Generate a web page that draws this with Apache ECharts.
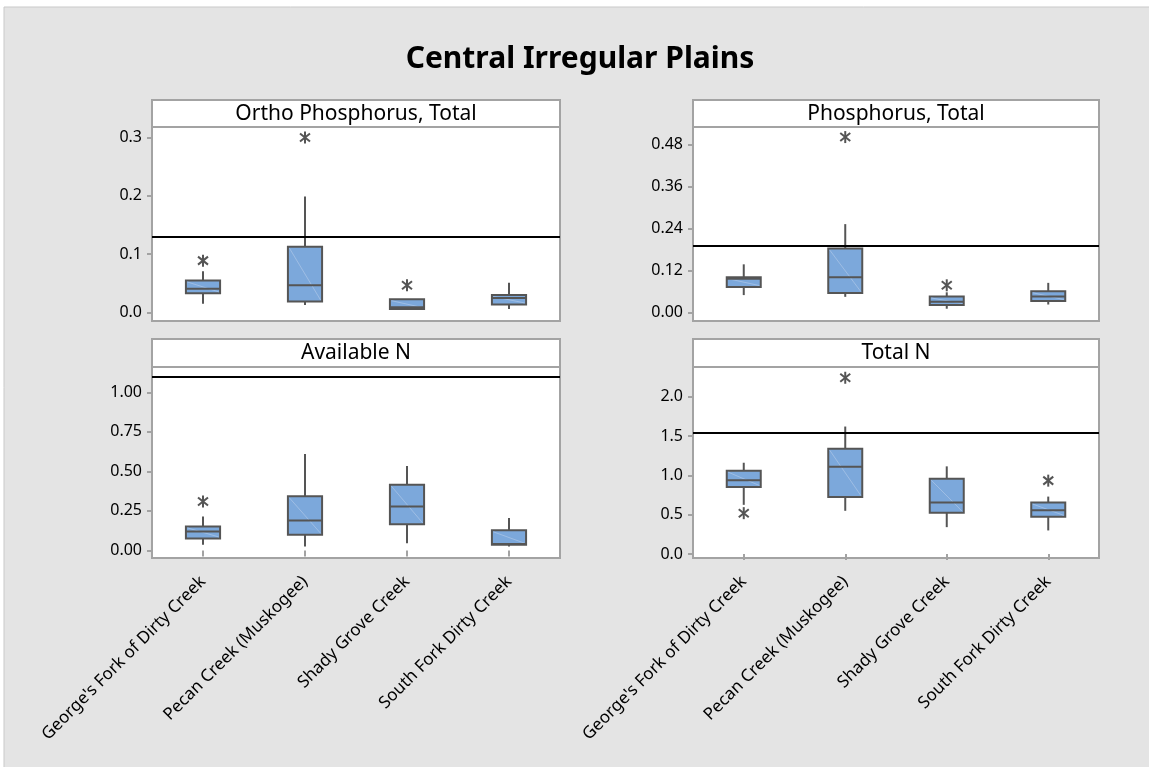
<!DOCTYPE html>
<html>
<head>
<meta charset="utf-8">
<script src="https://cdn.jsdelivr.net/npm/echarts@6/dist/echarts.min.js"></script>
<style>
  html, body { margin: 0; padding: 0; background: #ffffff; }
  #chart { width: 1149px; height: 767px; }
</style>
</head>
<body>
<div id="chart"></div>
<script>
// ---------- data ----------
const chartTitle = 'Central Irregular Plains';
const categories = ["George's Fork of Dirty Creek", 'Pecan Creek (Muskogee)', 'Shady Grove Creek', 'South Fork Dirty Creek'];
const panelTitles = ['Ortho Phosphorus, Total', 'Phosphorus, Total', 'Available N', 'Total N'];

// box stats per category: [min whisker, Q1, median, Q3, max whisker]
const orthoPBoxes = [[0.015, 0.033, 0.041, 0.055, 0.071], [0.013, 0.019, 0.047, 0.113, 0.199], [0.006, 0.006, 0.009, 0.023, 0.023], [0.006, 0.014, 0.025, 0.030, 0.051]];
const totalPBoxes = [[0.050, 0.073, 0.097, 0.101, 0.138], [0.045, 0.056, 0.101, 0.183, 0.253], [0.011, 0.022, 0.031, 0.046, 0.058], [0.023, 0.033, 0.046, 0.061, 0.085]];
const availNBoxes = [[0.036, 0.076, 0.120, 0.152, 0.215], [0.025, 0.099, 0.190, 0.342, 0.610], [0.046, 0.165, 0.278, 0.416, 0.534], [0.025, 0.036, 0.040, 0.127, 0.205]];
const totalNBoxes = [[0.626, 0.854, 0.938, 1.061, 1.162], [0.550, 0.727, 1.112, 1.340, 1.623], [0.342, 0.524, 0.655, 0.959, 1.116], [0.300, 0.473, 0.558, 0.655, 0.731]];

// outliers: [category index, value]
const orthoPOutliers = [[0, 0.089], [1, 0.300], [2, 0.047]];
const totalPOutliers = [[1, 0.502], [2, 0.078]];
const availNOutliers = [[0, 0.310]];
const totalNOutliers = [[0, 0.520], [1, 2.244], [3, 0.934]];

// reference lines
const referenceValues = [0.13, 0.193, 1.10, 1.54];

// y tick labels
const orthoPTicks = [0, 0.1, 0.2, 0.3];
const totalPTicks = [0, 0.12, 0.24, 0.36, 0.48];
const availNTicks = [0, 0.25, 0.5, 0.75, 1.0];
const totalNTicks = [0, 0.5, 1.0, 1.5, 2.0];
const tickDecimals = [1, 2, 2, 1];

// ---------- layout ----------
const boxes = [orthoPBoxes, totalPBoxes, availNBoxes, totalNBoxes];
const outliers = [orthoPOutliers, totalPOutliers, availNOutliers, totalNOutliers];
const ticks = [orthoPTicks, totalPTicks, availNTicks, totalNTicks];
const yRanges = [[-0.0144, 0.318], [-0.0241, 0.5308], [-0.0481, 1.1608], [-0.0508, 2.381]];
const grids = [
  { left: 152, top: 127, width: 408, height: 194, headTop: 100 },
  { left: 693, top: 127, width: 406, height: 194, headTop: 100 },
  { left: 152, top: 367, width: 408, height: 191, headTop: 339 },
  { left: 693, top: 367, width: 406, height: 191, headTop: 339 }
];
const FONT = '"Noto Sans", "Open Sans", sans-serif';
const FRAME = '#a3a3a3';
const INK = '#555555';

const option = {
  backgroundColor: '#ffffff',
  animation: false,
  grid: grids.map(g => ({
    left: g.left, top: g.top, width: g.width, height: g.height,
    show: true, backgroundColor: '#ffffff', borderColor: FRAME, borderWidth: 2
  })),
  xAxis: grids.map((g, i) => ({
    type: 'category', gridIndex: i, data: categories,
    axisLine: { show: false },
    axisTick: { show: i >= 2, alignWithLabel: true, length: 6, lineStyle: { color: FRAME, width: 2 } },
    axisLabel: { show: i >= 2, rotate: 45, fontSize: 17, color: '#000', margin: 21, fontFamily: FONT },
    splitLine: { show: false }
  })),
  yAxis: grids.map((g, i) => ({
    type: 'value', gridIndex: i, min: yRanges[i][0], max: yRanges[i][1],
    axisLine: { show: false },
    axisTick: { show: true, length: 5, customValues: ticks[i], lineStyle: { color: FRAME, width: 2 } },
    axisLabel: { customValues: ticks[i], fontSize: 16, color: '#000', margin: 10, fontFamily: FONT,
      formatter: v => Number(v).toFixed(tickDecimals[i]) },
    splitLine: { show: false }
  })),
  graphic: [
    { type: 'rect', z: -10, silent: true, shape: { x: 4, y: 7, width: 1160, height: 780 },
      style: { fill: '#e4e4e4', stroke: '#c9c9c9', lineWidth: 1 } },
    { type: 'text', x: 580, y: 59, silent: true,
      style: { text: chartTitle, fill: '#000', font: 'bold 30px ' + FONT, textAlign: 'center', textVerticalAlign: 'middle' } }
  ].concat(grids.flatMap((g, i) => [
    { type: 'rect', z: 5, silent: true,
      shape: { x: g.left, y: g.headTop, width: g.width, height: g.top - g.headTop },
      style: { fill: '#ffffff', stroke: FRAME, lineWidth: 2 } },
    { type: 'text', z: 6, silent: true, x: g.left + g.width / 2, y: (g.headTop + g.top) / 2 + 0.5,
      style: { text: panelTitles[i], fill: '#000', font: '21px ' + FONT, textAlign: 'center', textVerticalAlign: 'middle' } }
  ])),
  series: []
};

grids.forEach((g, i) => {
  option.series.push({
    type: 'custom', xAxisIndex: i, yAxisIndex: i,
    data: boxes[i].map((b, k) => [k].concat(b)),
    encode: { x: 0, y: [1, 2, 3, 4, 5] },
    renderItem: function (params, api) {
      const k = api.value(0);
      const lo = api.coord([k, api.value(1)]);
      const q1 = api.coord([k, api.value(2)]);
      const md = api.coord([k, api.value(3)]);
      const q3 = api.coord([k, api.value(4)]);
      const hi = api.coord([k, api.value(5)]);
      const bw = api.size([1, 0])[0] * 0.335;
      const x = lo[0];
      const st = { stroke: INK, lineWidth: 2, fill: null };
      return {
        type: 'group',
        children: [
          { type: 'line', shape: { x1: x, y1: hi[1], x2: x, y2: q3[1] }, style: st },
          { type: 'line', shape: { x1: x, y1: q1[1], x2: x, y2: lo[1] }, style: st },
          { type: 'rect', shape: { x: x - bw / 2, y: q3[1], width: bw, height: q1[1] - q3[1] },
            style: { fill: '#7ca8db', stroke: INK, lineWidth: 2 } },
          { type: 'line', shape: { x1: x - bw / 2 + 1.5, y1: q3[1] + 1.5, x2: x + bw / 2 - 1.5, y2: q1[1] - 1.5 },
            style: { stroke: '#a7c3e6', lineWidth: 0.8 } },
          { type: 'line', shape: { x1: x - bw / 2, y1: md[1], x2: x + bw / 2, y2: md[1] }, style: st }
        ]
      };
    }
  });
  option.series.push({
    type: 'custom', xAxisIndex: i, yAxisIndex: i,
    data: outliers[i],
    encode: { x: 0, y: 1 },
    renderItem: function (params, api) {
      const p = api.coord([api.value(0), api.value(1)]);
      const st = { stroke: INK, lineWidth: 2, fill: null };
      return {
        type: 'group', x: p[0], y: p[1],
        children: [
          { type: 'line', shape: { x1: 0, y1: -6, x2: 0, y2: 6 }, style: st },
          { type: 'line', shape: { x1: -5, y1: -4, x2: 5, y2: 4 }, style: st },
          { type: 'line', shape: { x1: -5, y1: 4, x2: 5, y2: -4 }, style: st }
        ]
      };
    }
  });
  option.series.push({
    type: 'line', xAxisIndex: i, yAxisIndex: i, data: [],
    markLine: {
      silent: true, symbol: 'none', label: { show: false },
      lineStyle: { color: '#000', width: 2, type: 'solid' },
      data: [{ yAxis: referenceValues[i] }]
    }
  });
});

const chart = echarts.init(document.getElementById('chart'), null, { renderer: 'canvas' });
chart.setOption(option);
</script>
</body>
</html>
